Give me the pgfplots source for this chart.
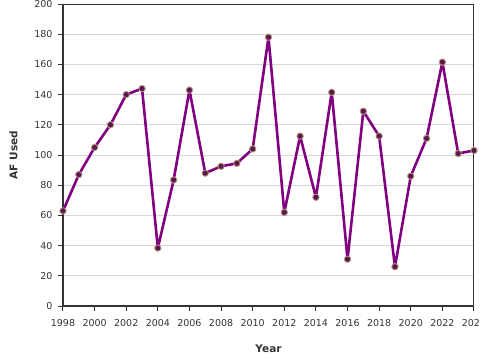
\documentclass[border=0pt]{standalone}
\usepackage{fontspec}
\setmainfont{DejaVu Sans}
\usepackage{pgfplots}
\pgfplotsset{compat=1.18}
\definecolor{linec}{HTML}{800080}
\definecolor{markf}{HTML}{5E1450}
\definecolor{marke}{HTML}{B0987A}
\definecolor{gridc}{HTML}{D6D6D6}
\definecolor{axc}{HTML}{333333}
\begin{document}
\begin{tikzpicture}[x=1pt,y=1pt]
\begin{axis}[
  at={(0,0)}, anchor=south west,
  scale only axis,
  width=411pt, height=302pt,
  xmin=1998, xmax=2024, ymin=0, ymax=200,
  xtick={1998,2000,...,2024},
  ytick={0,20,...,200},
  xticklabel style={/pgf/number format/1000 sep={}, yshift=-5pt},
  yticklabel style={xshift=-2pt},
  /pgf/number format/assume math mode=true,
  tick label style={font=\fontsize{9.5}{11}\selectfont, text=axc},
  ymajorgrids, grid style={gridc, line width=0.8pt},
  tick align=outside, major tick length=5pt,
  tick style={axc, line width=1pt},
  xtick pos=bottom, ytick pos=left,
  axis line style={axc, line width=1pt},
  xlabel={\textbf{Year}}, ylabel={\textbf{AF Used}},
  label style={font=\fontsize{10.5}{12}\selectfont, text=axc},
  xlabel style={yshift=-11pt},
  ylabel style={yshift=10pt},
  clip=false,
]
\addplot[linec, line width=2.6pt, line join=round, mark=*, mark size=3.2pt,
  mark options={fill=markf, draw=marke, line width=0.9pt}] coordinates {
(1998,63) (1999,87) (2000,105) (2001,120) (2002,140) (2003,144)
(2004,38.4) (2005,83.5) (2006,143) (2007,88) (2008,92.5) (2009,94.5)
(2010,104) (2011,178) (2012,62) (2013,112.5) (2014,72) (2015,141.5)
(2016,31) (2017,129) (2018,112.5) (2019,26) (2020,86) (2021,111)
(2022,161.5) (2023,101) (2024,103)
};
\draw[axc, line width=2pt] (rel axis cs:0,1) -- (rel axis cs:0,0) -- (rel axis cs:1,0);
\end{axis}
\pgfresetboundingbox
\useasboundingbox (-63,-54) rectangle (417,306);
\end{tikzpicture}
\end{document}
